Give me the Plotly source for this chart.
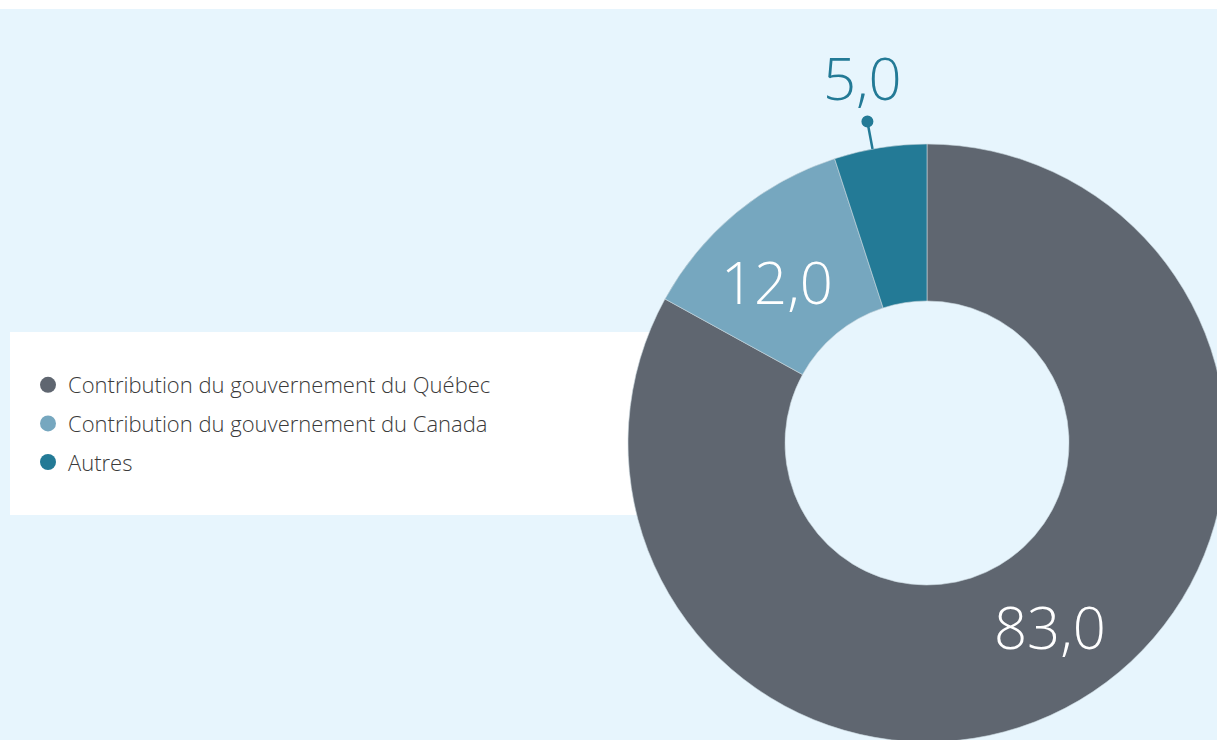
import math
import plotly.graph_objects as go

# ---- data ----
categories = ["Contribution du gouvernement du Québec",
              "Contribution du gouvernement du Canada",
              "Autres"]
values = [83.0, 12.0, 5.0]
value_labels = ["83,0", "12,0", "5,0"]
colors = ["#5f6670", "#76a7bf", "#237a96"]

# ---- geometry / style ----
# figure slightly larger than the 1217x740 window so the donut is cropped like the original
W, H = 1226, 742
BG = "#e7f5fd"
FONT = "Open Sans"
cx_px, cy_px, r_px = 927, 443, 299
hole = 0.475
inner_label_rot = -3.2   # degrees
leader_rot = -1.5        # degrees

dom_x = [(cx_px - r_px) / W, (cx_px + r_px) / W]
dom_y = [1 - (cy_px + r_px) / H, 1 - (cy_px - r_px) / H]

fig = go.Figure()
fig.add_trace(go.Pie(
    labels=categories, values=values, sort=False, direction="clockwise",
    rotation=0, hole=hole, marker=dict(colors=colors, line=dict(width=0.6, color="#c9d6de")),
    textinfo="none", hoverinfo="label+value", showlegend=False,
    domain=dict(x=dom_x, y=dom_y)))

# legend entries (circle markers)
for i, (cat, col) in enumerate(zip(categories, colors)):
    fig.add_trace(go.Scatter(x=[None], y=[None], mode="markers", name=cat,
                             legendgroup=f"g{i}",
                             marker=dict(symbol="circle", size=18, color=col)))

def px2paper(x, y):
    return x / W, 1 - y / H

# value labels from data
total = sum(values)
cum = 0
for i, v in enumerate(values):
    mid_deg = (cum + v / 2) / total * 360
    cum += v
    if i < 2:
        a = math.radians(mid_deg + inner_label_rot)
        rr = 0.737 * r_px
        x, y = cx_px + rr * math.sin(a), cy_px - rr * math.cos(a)
        ax, ay = px2paper(x, y)
        fig.add_annotation(x=ax, y=ay, xref="paper", yref="paper", text=value_labels[i],
                           xanchor="center", yanchor="middle",
                           showarrow=False, font=dict(family=FONT, size=58, color="white", weight=300))
    else:
        a = math.radians(mid_deg + leader_rot)
        x0, y0 = cx_px + r_px * math.sin(a), cy_px - r_px * math.cos(a)
        x1, y1 = cx_px + (r_px + 28) * math.sin(a), cy_px - (r_px + 28) * math.cos(a)
        p0, p1 = px2paper(x0, y0), px2paper(x1, y1)
        fig.add_shape(type="line", xref="paper", yref="paper", x0=p0[0], y0=p0[1],
                      x1=p1[0], y1=p1[1], line=dict(color=colors[i], width=2.5))
        fig.add_shape(type="circle", xref="paper", yref="paper",
                      x0=(x1 - 6) / W, x1=(x1 + 6) / W, y0=1 - (y1 + 6) / H, y1=1 - (y1 - 6) / H,
                      fillcolor=colors[i], line=dict(width=0))
        lx, ly = px2paper(x1 - 5, y1 - 44)
        fig.add_annotation(x=lx, y=ly, xref="paper", yref="paper", text=value_labels[i],
                           xanchor="center", yanchor="middle",
                           showarrow=False, font=dict(family=FONT, size=58, color=colors[i], weight=300))

# white top strip and white legend box
fig.add_shape(type="rect", xref="paper", yref="paper", x0=0, x1=1, y0=1 - 9 / H, y1=1,
              fillcolor="white", line=dict(width=0), layer="below")
fig.add_shape(type="rect", xref="paper", yref="paper", x0=10 / W, x1=700 / W,
              y0=1 - 515 / H, y1=1 - 332 / H,
              fillcolor="white", line=dict(width=0), layer="below")

fig.update_layout(
    width=W, height=H, margin=dict(l=0, r=0, t=0, b=0),
    paper_bgcolor=BG, plot_bgcolor="rgba(0,0,0,0)",
    xaxis=dict(visible=False), yaxis=dict(visible=False),
    legend=dict(x=28 / W, y=1 - 364 / H, xanchor="left", yanchor="top",
                bgcolor="rgba(0,0,0,0)", tracegroupgap=7, itemsizing="trace",
                font=dict(family=FONT, size=22, color="#3a3a3a", weight=300)),
    font=dict(family=FONT),
)

fig.write_html("out.html", config={"displayModeBar": False},
               post_script="document.body.style.margin='0';"
                           "document.body.style.overflow='hidden';"
                           "document.documentElement.style.overflow='hidden';")
